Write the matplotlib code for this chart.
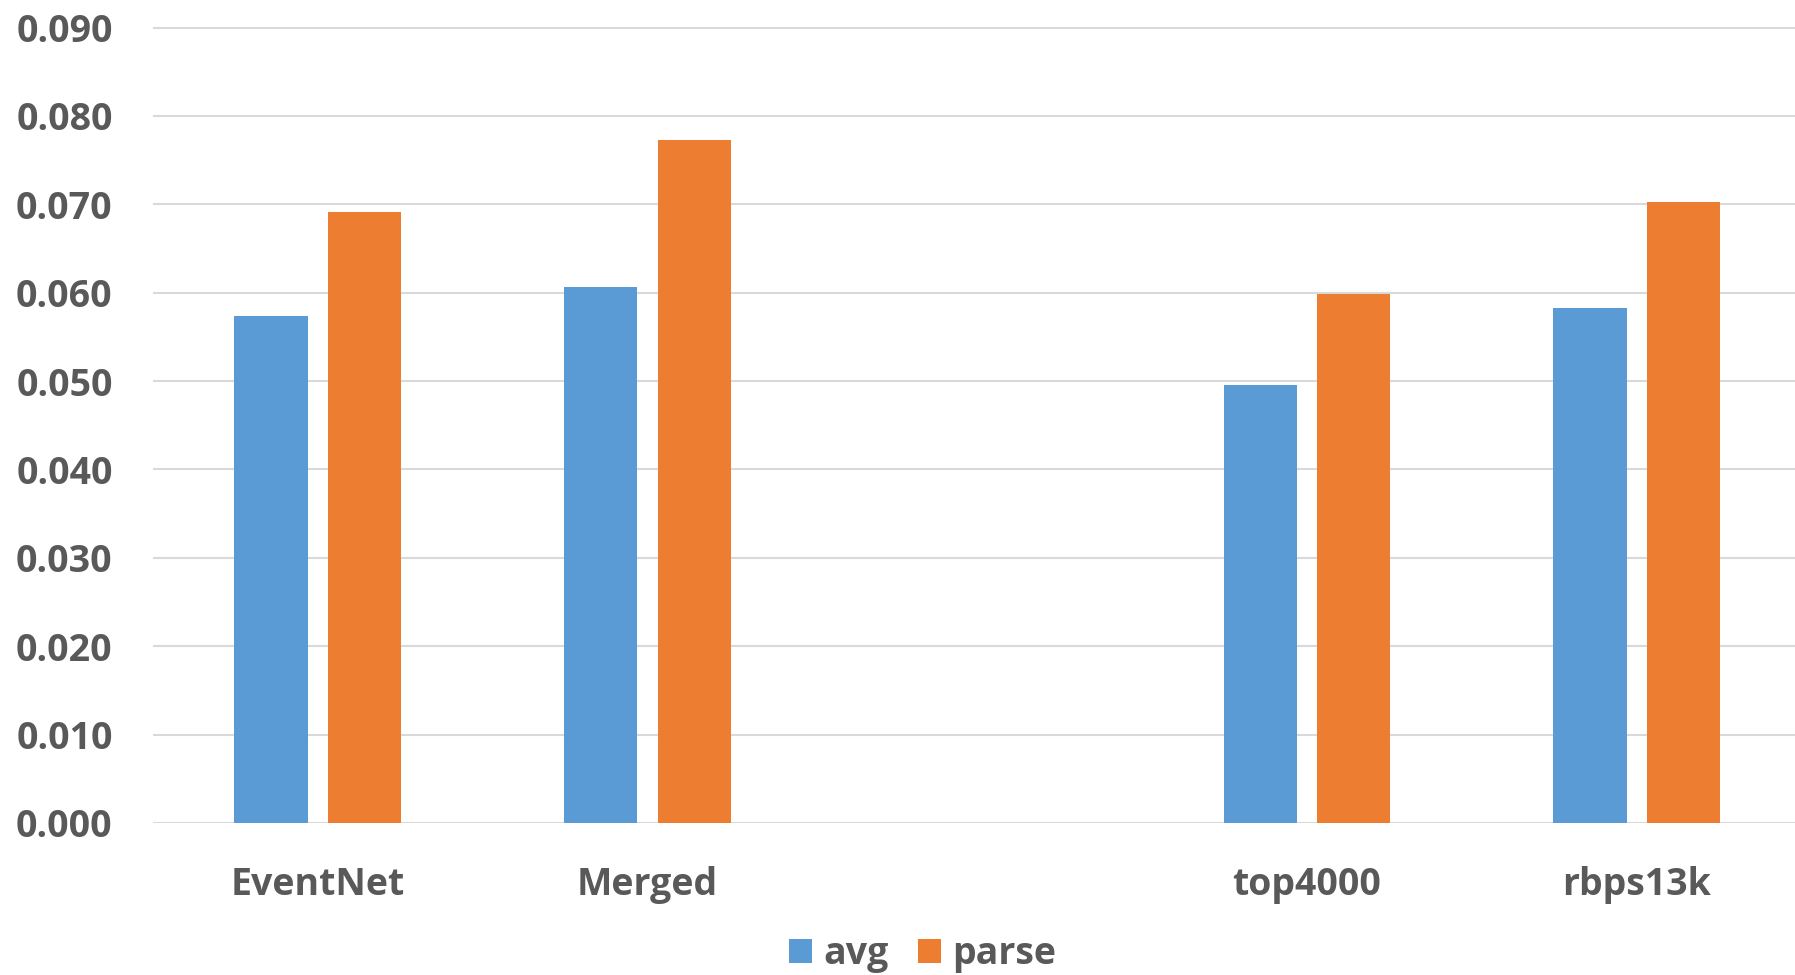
import numpy as np
import matplotlib
matplotlib.use('Agg')
import matplotlib.pyplot as plt

# data (third category is empty in the original)
categories = ['EventNet', 'Merged', '', 'top4000', 'rbps13k']
avg = [0.0574, 0.0606, np.nan, 0.0496, 0.0583]
parse = [0.0691, 0.0773, np.nan, 0.0599, 0.0703]
yticks = [0.0, 0.01, 0.02, 0.03, 0.04, 0.05, 0.06, 0.07, 0.08, 0.09]

blue = '#5B9BD5'
orange = '#ED7D31'
grey = '#595959'

plt.rcParams['font.family'] = ['Open Sans', 'DejaVu Sans']
plt.rcParams['font.weight'] = 'bold'

fig = plt.figure(figsize=(17.95, 9.75), dpi=100)
ax = fig.add_axes([0.0852, 0.156, 1.0 - 0.0852, 0.9808 - 0.156])

x = np.arange(len(categories))
w = 0.222
off = 0.142
ax.bar(x - off, avg, w, color=blue, label='avg', zorder=3)
ax.bar(x + off, parse, w, color=orange, label='parse', zorder=3)

ax.set_xlim(-0.5, 4.48)
ax.set_ylim(0, 0.091)
ax.set_yticks(yticks)
ax.set_yticklabels([f'{v:.3f}' for v in yticks])
ax.set_xticks(x)
ax.set_xticklabels(categories)
ax.grid(axis='y', color='#d9d9d9', linewidth=1.5, zorder=0)
for s in ax.spines.values():
    s.set_visible(False)
ax.tick_params(axis='y', length=0, pad=29, labelsize=27, labelcolor=grey)
ax.tick_params(axis='x', length=0, pad=31, labelsize=27, labelcolor=grey)
for lbl in ax.get_xticklabels() + ax.get_yticklabels():
    lbl.set_fontweight('bold')

fig.legend(loc='center', bbox_to_anchor=(0.514, 0.0215), ncol=2, frameon=False,
           prop={'size': 27, 'weight': 'bold'}, labelcolor=grey,
           handlelength=0.61, handleheight=0.61, handletextpad=0.3,
           columnspacing=0.8, borderpad=0)

fig.savefig('out.png', dpi=100)
